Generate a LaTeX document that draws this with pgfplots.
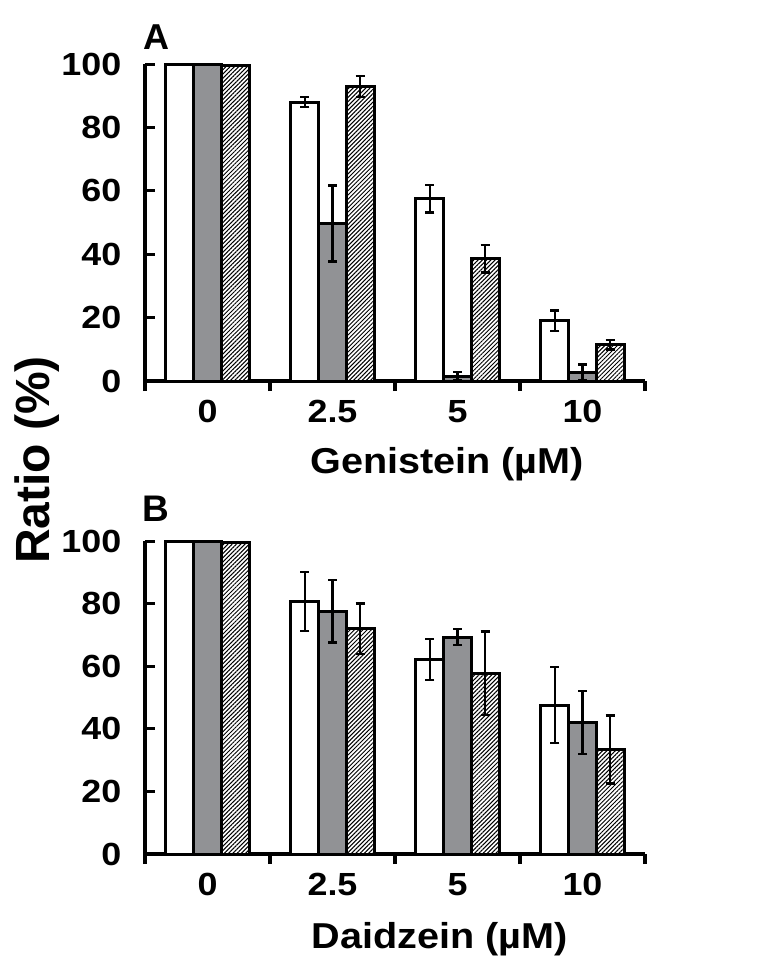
\documentclass[border=0pt]{standalone}
\usepackage{fontspec}
\setmainfont{Liberation Sans}
\usepackage{pgfplots}
\pgfplotsset{compat=1.18}
\usetikzlibrary{patterns.meta}
\definecolor{bargray}{RGB}{145,146,149}

\pgfplotstableread{
x  y     e
0  100   0
1  88    1.6
2  57.5  4.3
3  19    3.2
}\whiteA
\pgfplotstableread{
x  y     e
0  100   0
1  49.7  12
2  1.5   1.3
3  2.7   2.5
}\grayA
\pgfplotstableread{
x  y     e
0  99.5  0
1  93    3.3
2  38.5  4.3
3  11.4  1.5
}\hatchA
\pgfplotstableread{
x  y     e
0  100   0
1  80.7  9.5
2  62.2  6.5
3  47.6  12.2
}\whiteB
\pgfplotstableread{
x  y     e
0  100   0
1  77.6  10
2  69.3  2.5
3  42    10
}\grayB
\pgfplotstableread{
x  y     e
0  99.5  0
1  72    8
2  57.8  13.3
3  33.4  10.9
}\hatchB

\pgfplotsset{
  panel/.style={
    width=500pt, scale only axis,
    xmin=-0.5, xmax=3.5, ymin=0, ymax=100,
    axis x line=bottom, axis y line=left,
    axis line style={line width=3.5pt,-},
    xtick={0,1,2,3}, xticklabels={0,2.5,5,10},
    major x tick style={draw=none},
    minor xtick={-0.5,0.5,1.5,2.5,3.5},
    minor x tick style={line width=3.2pt, black},
    minor tick length=10pt,
    major tick length=10pt,
    xtick align=outside, ytick align=inside,
    ytick={0,20,40,60,80,100},
    major y tick style={line width=3pt, black},
    /pgf/number format/assume math mode=true,
    tick label style={font=\fontsize{32}{36}\selectfont\bfseries, xscale=1.12, inner sep=0pt},
    x tick label style={yshift=-9pt},
    y tick label style={xshift=-21pt},
    xlabel style={font=\fontsize{36}{40}\selectfont\bfseries, xscale=1.1, inner sep=0pt, anchor=north},
    ybar=0pt, bar width=27.7pt,
    clip=false,
    every axis plot/.append style={draw=black, line width=3pt},
    error bars/y dir=both, error bars/y explicit,
    error bars/error bar style={line width=2.3pt, black},
    error bars/error mark options={rotate=90, mark size=4.5pt, line width=2.3pt, black},
  }
}

\begin{document}
\begin{tikzpicture}
\useasboundingbox (0,0) rectangle (779pt,-980pt);
% Panel A
\begin{axis}[panel, height=317pt, at={(145pt,-381pt)}, anchor=south west,
  xlabel={Genistein (µM)},
  xlabel style={at={(axis description cs:0.604,0)}, yshift=-66pt}]
  \addplot[fill=white] table[x=x,y=y,y error=e]{\whiteA};
  \addplot[fill=bargray] table[x=x,y=y,y error=e]{\grayA};
  \addplot[fill=white, postaction={pattern={Lines[angle=45,distance=3pt,line width=1pt]}}] table[x=x,y=y,y error=e]{\hatchA};
  \node[anchor=south west, inner sep=0pt, font=\fontsize{36}{40}\selectfont\bfseries] at (rel axis cs:0,1) [xshift=-2pt, yshift=14pt] {A};
\end{axis}
% Panel B
\begin{axis}[panel, height=313pt, at={(145pt,-854pt)}, anchor=south west,
  xlabel={Daidzein (µM)},
  xlabel style={at={(axis description cs:0.59,0)}, yshift=-68pt}]
  \addplot[fill=white] table[x=x,y=y,y error=e]{\whiteB};
  \addplot[fill=bargray] table[x=x,y=y,y error=e]{\grayB};
  \addplot[fill=white, postaction={pattern={Lines[angle=45,distance=3pt,line width=1pt]}}] table[x=x,y=y,y error=e]{\hatchB};
  \node[anchor=south west, inner sep=0pt, font=\fontsize{37}{42}\selectfont\bfseries] at (rel axis cs:0,1) [xshift=-3pt, yshift=19pt] {B};
\end{axis}
\node[rotate=90, inner sep=0pt, font=\fontsize{48}{52}\selectfont\bfseries] at (37pt,-460pt) {Ratio (\%)};
\end{tikzpicture}
\end{document}
